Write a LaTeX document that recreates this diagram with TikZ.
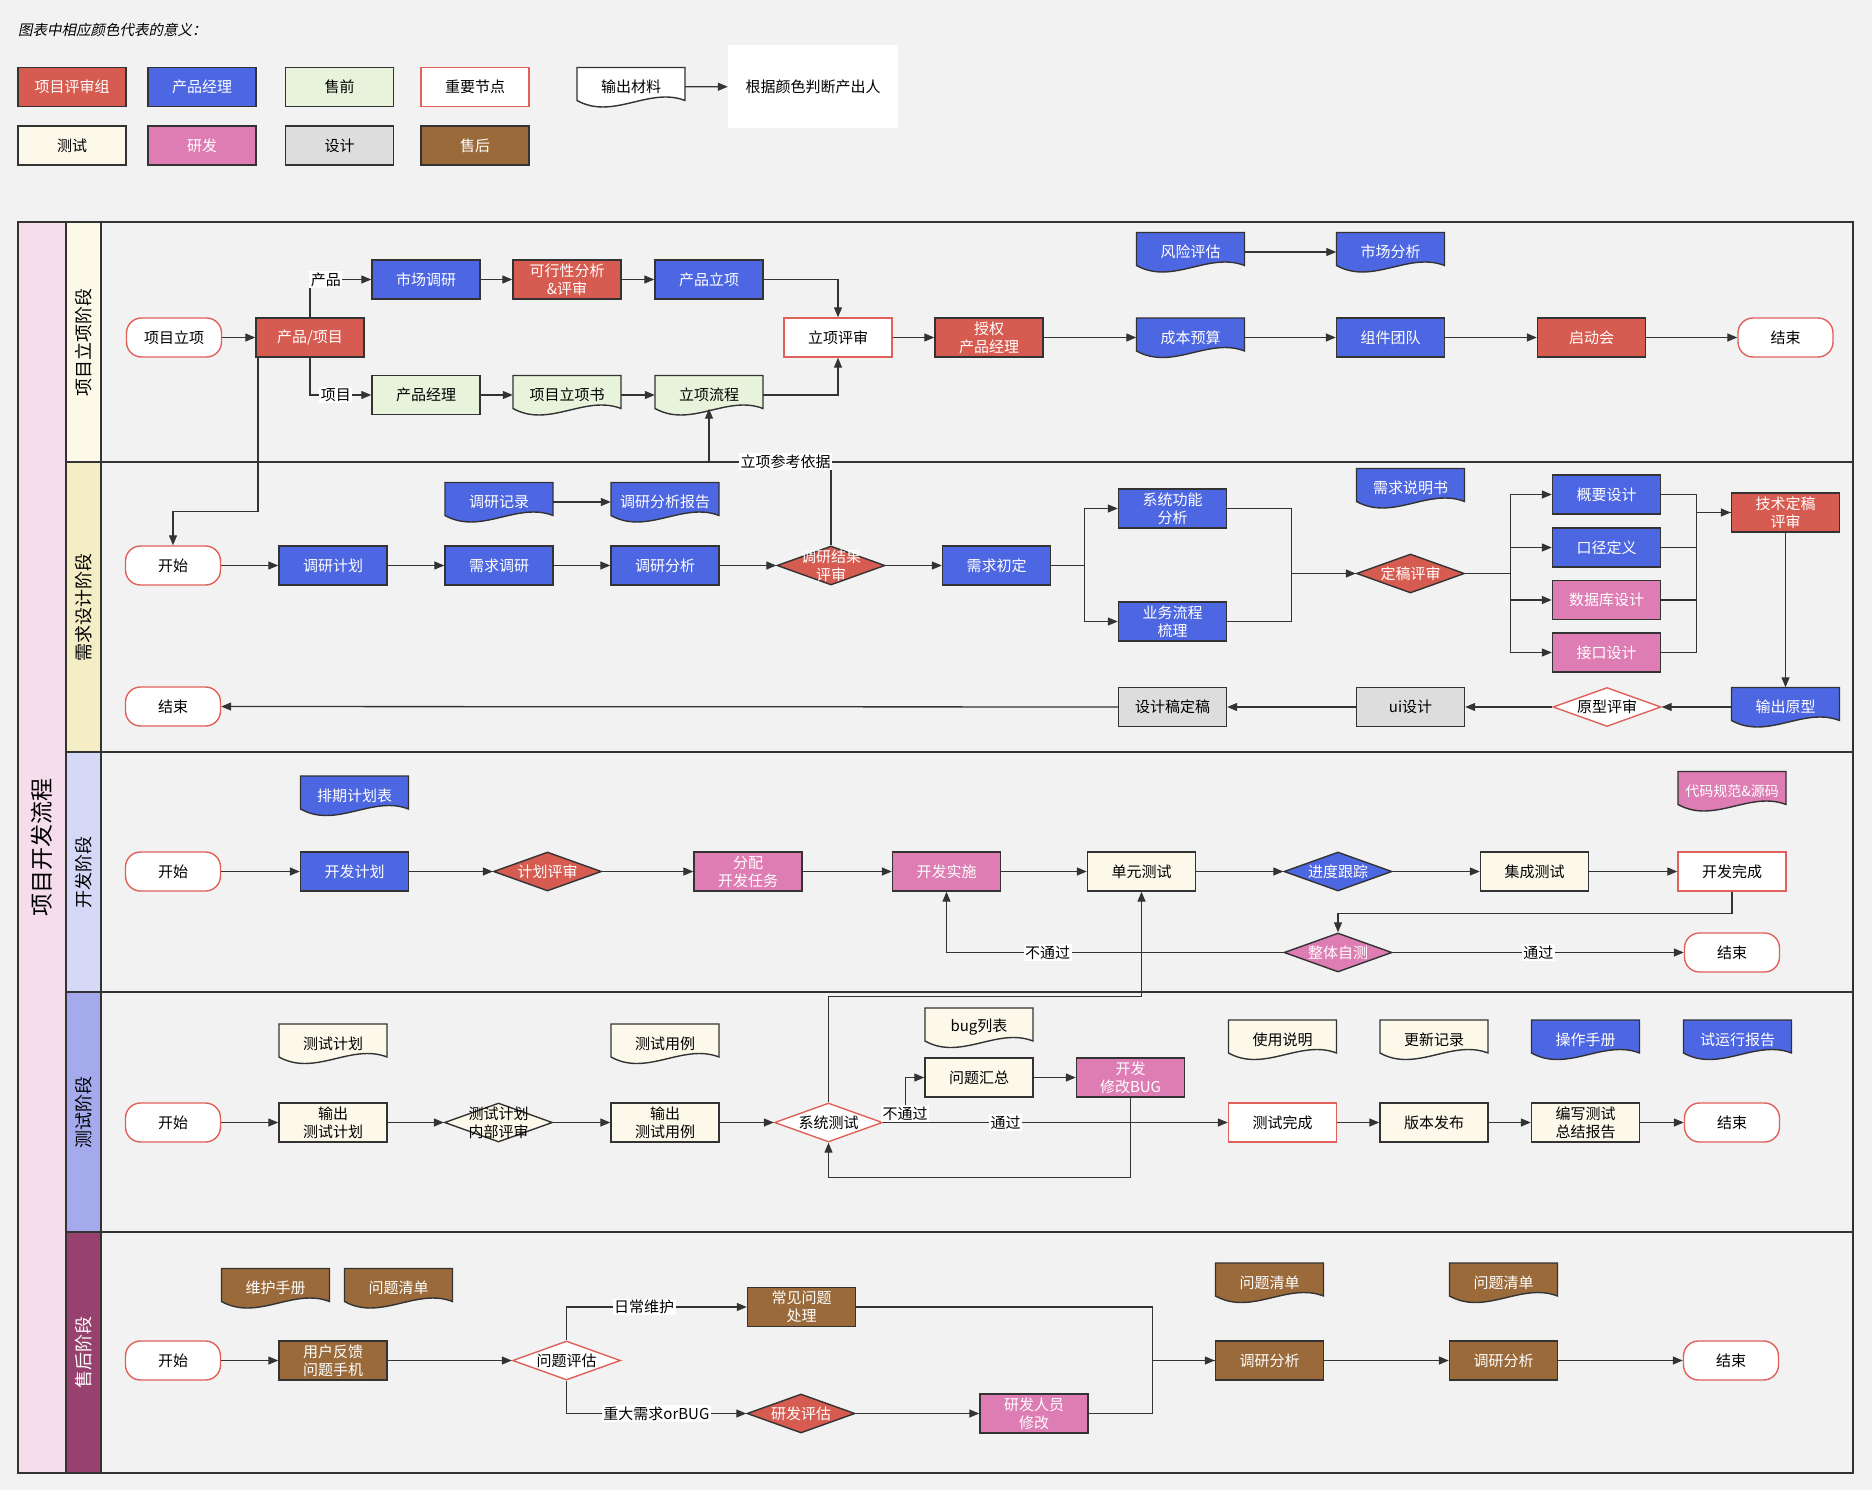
\documentclass[tikz,border=0pt]{standalone}
\usepackage{fontspec}
\setmainfont{Noto Sans CJK SC}
\newfontfamily\slantfont[FakeSlant=0.2]{Noto Sans CJK SC}
\usetikzlibrary{arrows.meta,shapes.geometric}

\definecolor{pagebg}{HTML}{F2F2F2}
\definecolor{linegray}{HTML}{333333}
\definecolor{redbox}{HTML}{D65B50}
\definecolor{bluebox}{HTML}{4D66E2}
\definecolor{greenbox}{HTML}{E7F4DB}
\definecolor{creambox}{HTML}{FCF9EA}
\definecolor{pinkbox}{HTML}{DE7DB3}
\definecolor{graybox}{HTML}{DDDDDD}
\definecolor{brownbox}{HTML}{9A6A3A}
\definecolor{keyred}{HTML}{E0605A}
\definecolor{mainpink}{HTML}{F5DDEB}
\definecolor{laneA}{HTML}{FDF9E9}
\definecolor{laneB}{HTML}{F5EDC6}
\definecolor{laneC}{HTML}{D6D8F8}
\definecolor{laneD}{HTML}{A4AAEC}
\definecolor{laneE}{HTML}{97426E}

\newcommand{\flowfont}{\fontsize{15pt}{18pt}\selectfont}
\newcommand{\lanefont}{\fontsize{18pt}{20pt}\selectfont}
\newcommand{\procfont}{\fontsize{23pt}{26pt}\selectfont}

\tikzset{
  base/.style={draw=linegray, line width=1.4pt, minimum width=108pt, minimum height=39pt,
    inner sep=1pt, align=center, font=\flowfont},
  review/.style={base, fill=redbox, text=white},
  product/.style={base, fill=bluebox, text=white},
  presale/.style={base, fill=greenbox},
  keynode/.style={base, draw=keyred, fill=white},
  testing/.style={base, fill=creambox},
  develop/.style={base, fill=pinkbox, text=white},
  design/.style={base, fill=graybox},
  aftersale/.style={base, fill=brownbox, text=white},
  terminal/.style={keynode, rounded corners=15pt, minimum width=95pt},
  decision/.style={diamond, aspect=2.77, minimum width=108pt, minimum height=39pt,
    inner sep=0pt, draw=linegray, line width=1.4pt, font=\flowfont},
  dlabel/.style={align=center, text=white, inner sep=0pt, font=\flowfont},
  docbox/.style={minimum width=108pt, minimum height=39pt, inner sep=1pt, align=center, font=\flowfont},
  docline/.style={draw=linegray, line width=1.4pt},
  frame/.style={draw=linegray, line width=1.6pt},
  flow/.style={->, draw=linegray, line width=1.3pt},
  edgelabel/.style={fill=white, inner sep=1.5pt, font=\flowfont}
}

% document shape: name, x, y, fill, text colour, text
\newcommand{\docnode}[6]{%
  \filldraw[docline, fill=#4] (#2-54,#3-19.5) -- (#2+54,#3-19.5) -- (#2+54,#3+13.5)
    .. controls (#2+18,#3-0.5) and (#2-18,#3+33.5) .. (#2-54,#3+13.5) -- cycle;
  \node[docbox, text=#5] (#1) at (#2,#3) {#6};
}

\begin{document}
\begin{tikzpicture}[x=1pt, y=-1pt, >={Triangle[length=10pt,width=8pt]}]
  \fill[pagebg] (0,0) rectangle (1872,1490);
  \useasboundingbox (0,0) rectangle (1872,1490);

  % legend
  \node[font=\slantfont\fontsize{14.5pt}{16pt}\selectfont, anchor=west, inner sep=0pt] (legtitle) at (18,30) {图表中相应颜色代表的意义：};
  \node[review] (lgA) at (72,87) {项目评审组};
  \node[product] (lgB) at (202,87) {产品经理};
  \node[presale] (lgC) at (339.5,87) {售前};
  \node[keynode] (lgD) at (475,87) {重要节点};
  \node[testing] (lgE) at (72,145.5) {测试};
  \node[develop] (lgF) at (202,145.5) {研发};
  \node[design] (lgG) at (339.5,145.5) {设计};
  \node[aftersale] (lgH) at (475,145.5) {售后};
  \docnode{lgdoc}{631}{87}{white}{black}{输出材料}
  \node[fill=white, minimum width=170pt, minimum height=83pt, font=\flowfont] (lgnote) at (813,86.5) {根据颜色判断产出人};
  \draw[flow] (lgdoc) -- (lgnote);

  % swimlanes
  \draw[frame, fill=mainpink] (18,222) rectangle (66,1473);
  \node[rotate=90, font=\procfont] (proc) at (42,847.5) {项目开发流程};
  \draw[frame, fill=laneA] (66,222) rectangle (101,462);
  \draw[frame, fill=laneB] (66,462) rectangle (101,752);
  \draw[frame, fill=laneC] (66,752) rectangle (101,992);
  \draw[frame, fill=laneD] (66,992) rectangle (101,1232);
  \draw[frame, fill=laneE] (66,1232) rectangle (101,1473);
  \draw[frame] (101,222) rectangle (1853,462);
  \draw[frame] (101,462) rectangle (1853,752);
  \draw[frame] (101,752) rectangle (1853,992);
  \draw[frame] (101,992) rectangle (1853,1232);
  \draw[frame] (101,1232) rectangle (1853,1473);
  \node[rotate=90, font=\lanefont] (laneAt) at (83.5,342) {项目立项阶段};
  \node[rotate=90, font=\lanefont] (laneBt) at (83.5,607) {需求设计阶段};
  \node[rotate=90, font=\lanefont] (laneCt) at (83.5,872) {开发阶段};
  \node[rotate=90, font=\lanefont] (laneDt) at (83.5,1112) {测试阶段};
  \node[rotate=90, font=\lanefont, text=white] (laneEt) at (83.5,1352.5) {售后阶段};

  % lane 1
  \node[terminal] (xmlx) at (174,337.5) {项目立项};
  \node[review] (cpxm) at (310,337.5) {产品/项目};
  \node[product] (scdy) at (426,279.5) {市场调研};
  \node[review] (kxx) at (567,279.5) {可行性分析\\\&评审};
  \node[product] (cplx) at (709,279.5) {产品立项};
  \node[keynode] (lxps) at (838,337.5) {立项评审};
  \node[presale] (cpjl) at (426,395) {产品经理};
  \docnode{lxs}{567}{395}{greenbox}{black}{项目立项书}
  \docnode{lxlc}{709}{395}{greenbox}{black}{立项流程}
  \node[review] (sqjl) at (989,337.5) {授权\\产品经理};
  \docnode{cbys}{1190.5}{337.5}{bluebox}{white}{成本预算}
  \node[product] (zjtd) at (1390.5,337.5) {组件团队};
  \node[review] (qdh) at (1591.5,337.5) {启动会};
  \node[terminal] (endA) at (1785.5,337.5) {结束};
  \docnode{fxpg}{1190.5}{252}{bluebox}{white}{风险评估}
  \docnode{scfx}{1390.5}{252}{bluebox}{white}{市场分析}

  % lane 2
  \node[terminal] (ksB) at (173,565.5) {开始};
  \node[product] (dyjh) at (333,565.5) {调研计划};
  \node[product] (xqdy) at (499,565.5) {需求调研};
  \node[product] (dyfx) at (665,565.5) {调研分析};
  \node[decision, fill=redbox, label={[dlabel]center:{调研结果\\评审}}] (dyps) at (831,565.5) {};
  \node[product] (xqcd) at (996.5,565.5) {需求初定};
  \docnode{dyjl}{499}{502}{bluebox}{white}{调研记录}
  \docnode{dybg}{665}{502}{bluebox}{white}{调研分析报告}
  \node[product] (xtgn) at (1172.5,508.5) {系统功能\\分析};
  \node[product] (ywlc) at (1172.5,621.5) {业务流程\\梳理};
  \node[decision, fill=redbox, text=white] (dgps) at (1410.5,573.5) {定稿评审};
  \docnode{xqsms}{1410.5}{488}{bluebox}{white}{需求说明书}
  \node[product] (gysj) at (1606.5,494.5) {概要设计};
  \node[product] (kjdy) at (1606.5,547.5) {口径定义};
  \node[develop] (sjksj) at (1606.5,600) {数据库设计};
  \node[develop] (jksj) at (1606.5,652.5) {接口设计};
  \node[review] (jsdg) at (1785.5,512.5) {技术定稿\\评审};
  \docnode{sccy}{1785.5}{707}{bluebox}{white}{输出原型}
  \node[decision, draw=keyred, fill=white] (yxps) at (1607,707) {原型评审};
  \node[design] (uisj) at (1410.5,707) {ui设计};
  \node[design] (sjgdg) at (1172.5,707) {设计稿定稿};
  \node[terminal] (endB) at (173,706.5) {结束};

  % lane 3
  \node[terminal] (ksC) at (173,871.5) {开始};
  \node[product] (kfjh) at (354.5,871.5) {开发计划};
  \node[decision, fill=redbox, text=white] (jhps) at (547.5,871.5) {计划评审};
  \node[develop] (fprw) at (748,871.5) {分配\\开发任务};
  \node[develop] (kfss) at (946.5,871.5) {开发实施};
  \node[testing] (dycs) at (1141.5,871.5) {单元测试};
  \node[decision, fill=bluebox, text=white] (jdgz) at (1338,871.5) {进度跟踪};
  \node[testing] (jccs) at (1534.5,871.5) {集成测试};
  \node[keynode] (kfwc) at (1732,871.5) {开发完成};
  \node[decision, fill=pinkbox, text=white] (ztzc) at (1338,952.5) {整体自测};
  \node[terminal] (endC) at (1732,952.5) {结束};
  \docnode{pqjh}{354.5}{795.5}{bluebox}{white}{排期计划表}
  \docnode{dmgf}{1732}{791}{pinkbox}{white}{\fontsize{14pt}{16pt}\selectfont 代码规范\&源码}

  % lane 4
  \node[terminal] (ksD) at (173,1122.5) {开始};
  \node[testing] (scjh) at (333,1122.5) {输出\\测试计划};
  \node[decision, fill=creambox, label={[dlabel, text=black]center:{测试计划\\内部评审}}] (csps) at (498.5,1122.5) {};
  \node[testing] (scyl) at (665,1122.5) {输出\\测试用例};
  \node[decision, draw=keyred, fill=white] (xtcs) at (828.5,1122.5) {系统测试};
  \docnode{csjhd}{333}{1043.5}{creambox}{black}{测试计划}
  \docnode{csyld}{665}{1043.5}{creambox}{black}{测试用例}
  \docnode{buglb}{979}{1027.5}{creambox}{black}{bug列表}
  \node[testing] (wthz) at (979,1077.5) {问题汇总};
  \node[develop] (xgbug) at (1130.5,1077.5) {开发\\修改BUG};
  \node[keynode] (cswc) at (1282.5,1122.5) {测试完成};
  \node[testing] (bbfb) at (1434,1122.5) {版本发布};
  \node[testing] (zjbg) at (1585.5,1122.5) {编写测试\\总结报告};
  \node[terminal] (endD) at (1732,1122.5) {结束};
  \docnode{sysm}{1282.5}{1039.5}{creambox}{black}{使用说明}
  \docnode{gxjl}{1434}{1039.5}{creambox}{black}{更新记录}
  \docnode{czsc}{1585.5}{1039.5}{bluebox}{white}{操作手册}
  \docnode{syxbg}{1737.5}{1039.5}{bluebox}{white}{试运行报告}

  % lane 5
  \node[terminal] (ksE) at (173,1360.5) {开始};
  \node[aftersale] (yhfk) at (333,1360.5) {用户反馈\\问题手机};
  \node[decision, draw=keyred, fill=white] (wtpg) at (566.5,1360.5) {问题评估};
  \node[aftersale] (cjwt) at (801.5,1307) {常见问题\\处理};
  \node[decision, fill=redbox, text=white] (yfpg) at (801,1413.5) {研发评估};
  \node[develop] (yfxg) at (1034,1413.5) {研发人员\\修改};
  \node[aftersale] (dyfxA) at (1269.5,1360.5) {调研分析};
  \node[aftersale] (dyfxB) at (1503.5,1360.5) {调研分析};
  \node[terminal] (endE) at (1731,1360.5) {结束};
  \docnode{whsc}{275.5}{1288}{brownbox}{white}{维护手册}
  \docnode{wtqdA}{398.5}{1288}{brownbox}{white}{问题清单}
  \docnode{wtqdB}{1269.5}{1282.5}{brownbox}{white}{问题清单}
  \docnode{wtqdC}{1503.5}{1282.5}{brownbox}{white}{问题清单}

  % connectors lane 1
  \draw[flow] (xmlx) -- (cpxm);
  \draw[flow] (cpxm.north) |- node[pos=0.63, edgelabel] {产品} (scdy.west);
  \draw[flow] (cpxm.south) |- node[pos=0.71, edgelabel] {项目} (cpjl.west);
  \draw[flow] (scdy) -- (kxx);
  \draw[flow] (kxx) -- (cplx);
  \draw[flow] (cplx.east) -| (lxps.north);
  \draw[flow] (cpjl) -- (lxs);
  \draw[flow] (lxs) -- (lxlc);
  \draw[flow] (lxlc.east) -| (lxps.south);
  \draw[flow] (lxps) -- (sqjl);
  \draw[flow] (sqjl) -- (cbys);
  \draw[flow] (cbys) -- (zjtd);
  \draw[flow] (zjtd) -- (qdh);
  \draw[flow] (qdh) -- (endA);
  \draw[flow] (fxpg) -- (scfx);
  \draw[flow] ([xshift=-52pt]cpxm.south) -- ++(0,154) -| (ksB.north);
  \draw[flow] (dyps.north) -- ++(0,-84) -| node[pos=0.186, edgelabel] {立项参考依据} ([yshift=6pt]lxlc.south);

  % connectors lane 2
  \draw[flow] (ksB) -- (dyjh);
  \draw[flow] (dyjh) -- (xqdy);
  \draw[flow] (xqdy) -- (dyfx);
  \draw[flow] (dyfx) -- (dyps);
  \draw[flow] (dyps) -- (xqcd);
  \draw[flow] (dyjl) -- (dybg);
  \draw[flow] (xqcd.east) -- ++(33,0) |- (xtgn.west);
  \draw[flow] (xqcd.east) -- ++(33,0) |- (ywlc.west);
  \draw[flow] (xtgn.east) -- ++(64,0) |- (dgps.west);
  \draw[draw=linegray, line width=1.3pt] (ywlc.east) -- ++(64,0) |- (dgps.west);
  \draw[flow] (dgps.east) -- ++(45,0) |- (gysj.west);
  \draw[flow] (dgps.east) -- ++(45,0) |- (kjdy.west);
  \draw[flow] (dgps.east) -- ++(45,0) |- (sjksj.west);
  \draw[flow] (dgps.east) -- ++(45,0) |- (jksj.west);
  \draw[flow] (gysj.east) -- ++(35,0) |- (jsdg.west);
  \draw[draw=linegray, line width=1.3pt] (kjdy.east) -- ++(35,0) |- (jsdg.west);
  \draw[draw=linegray, line width=1.3pt] (sjksj.east) -- ++(35,0) |- (jsdg.west);
  \draw[draw=linegray, line width=1.3pt] (jksj.east) -- ++(35,0) |- (jsdg.west);
  \draw[flow] (jsdg) -- (sccy);
  \draw[flow] (sccy) -- (yxps);
  \draw[flow] (yxps) -- (uisj);
  \draw[flow] (uisj) -- (sjgdg);
  \draw[flow] (sjgdg) -- (endB);

  % connectors lane 3
  \draw[flow] (ksC) -- (kfjh);
  \draw[flow] (kfjh) -- (jhps);
  \draw[flow] (jhps) -- (fprw);
  \draw[flow] (fprw) -- (kfss);
  \draw[flow] (kfss) -- (dycs);
  \draw[flow] (dycs) -- (jdgz);
  \draw[flow] (jdgz) -- (jccs);
  \draw[flow] (jccs) -- (kfwc);
  \draw[flow] (kfwc.south) -- ++(0,22) -| (ztzc.north);
  \draw[flow] (ztzc) -- node[edgelabel] {通过} (endC);
  \draw[flow] (ztzc.west) -| node[pos=0.35, edgelabel] {不通过} (kfss.south);
  \draw[flow] (xtcs.north) -- ++(0,-106) -| (dycs.south);

  % connectors lane 4
  \draw[flow] (ksD) -- (scjh);
  \draw[flow] (scjh) -- (csps);
  \draw[flow] (csps) -- (scyl);
  \draw[flow] (scyl) -- (xtcs);
  \draw[flow] (xtcs) -- node[pos=0.355, edgelabel] {通过} (cswc);
  \draw[flow] (xtcs.east) -- ++(22,0) |- node[pos=0.1, edgelabel] {不通过} (wthz.west);
  \draw[flow] (wthz) -- (xgbug);
  \draw[flow] (xgbug.south) -- ++(0,80) -| (xtcs.south);
  \draw[flow] (cswc) -- (bbfb);
  \draw[flow] (bbfb) -- (zjbg);
  \draw[flow] (zjbg) -- (endD);

  % connectors lane 5
  \draw[flow] (ksE) -- (yhfk);
  \draw[flow] (yhfk) -- (wtpg);
  \draw[flow] (wtpg.north) |- node[pos=0.715, edgelabel] {日常维护} (cjwt.west);
  \draw[flow] (wtpg.south) |- node[pos=0.75, edgelabel] {重大需求orBUG} (yfpg.west);
  \draw[flow] (yfpg) -- (yfxg);
  \draw[flow] (cjwt.east) -- ++(296.5,0) |- (dyfxA.west);
  \draw[draw=linegray, line width=1.3pt] (yfxg.east) -- ++(64,0) |- (dyfxA.west);
  \draw[flow] (dyfxA) -- (dyfxB);
  \draw[flow] (dyfxB) -- (endE);
\end{tikzpicture}
\end{document}
